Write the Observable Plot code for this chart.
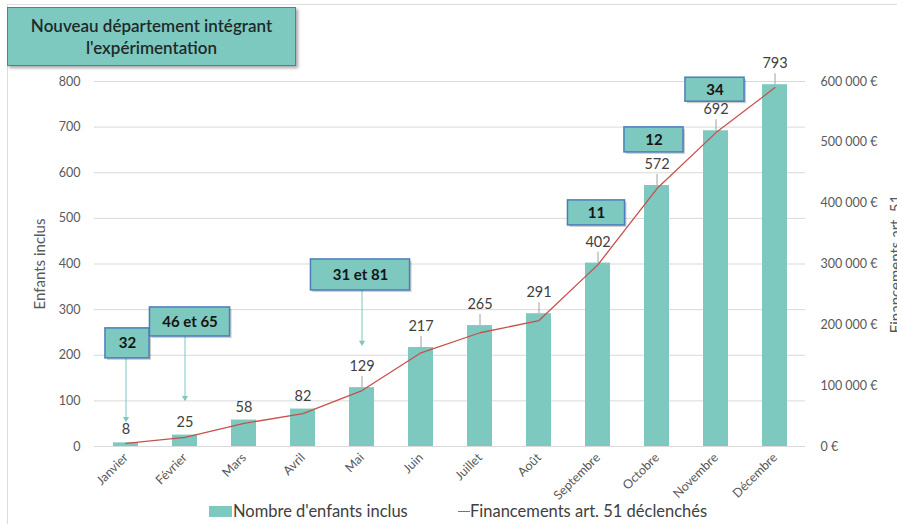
<!DOCTYPE html>
<html>
<head>
<meta charset="utf-8">
<script src="https://cdn.jsdelivr.net/npm/d3@7"></script>
<script src="https://cdn.jsdelivr.net/npm/@observablehq/plot@0.6"></script>
<style>
  html, body { margin: 0; padding: 0; background: #fff; }
  #wrap { position: relative; width: 897px; height: 524px; overflow: hidden; font-family: Lato, "Open Sans", sans-serif; }
  #frame { position: absolute; left: 7px; top: 4px; width: 960px; height: 600px; border: 1px solid #dcdcdc; box-sizing: border-box; }
  #chart { position: absolute; left: 0; top: 0; }
  #title { position: absolute; left: 7px; top: 7px; width: 289px; height: 59px; box-sizing: border-box;
           background: #7dc8bf; border: 1.5px solid #4a7ebb; box-shadow: 2px 2px 3px rgba(0,0,0,0.35);
           display: flex; align-items: center; justify-content: center; text-align: center;
           font-size: 17px; font-weight: 600; color: #1f2a2a; line-height: 22px; }
  .lg { position: absolute; font-size: 16.5px; color: #404040; line-height: 16px; white-space: nowrap; }
  .sw { position: absolute; }
</style>
</head>
<body>
<div id="wrap">
  <div id="frame"></div>
  <div id="chart"></div>
  <div id="title"></div>
  <div class="sw" id="sw1" style="left:209px;top:506px;width:23px;height:11px;background:#7dc8bf;"></div>
  <div class="lg" id="lg1" style="left:233px;top:503px;"></div>
  <div class="sw" id="sw2" style="left:458px;top:511px;width:12px;height:1.4px;background:#c8504c;"></div>
  <div class="lg" id="lg2" style="left:470px;top:503px;"></div>
</div>
<script>
// ---------- data ----------
const months = ["Janvier", "Février", "Mars", "Avril", "Mai", "Juin", "Juillet", "Août", "Septembre", "Octobre", "Novembre", "Décembre"];
const enfants = [8, 25, 58, 82, 129, 217, 265, 291, 402, 572, 692, 793];
const financements = [5000, 15000, 38000, 54000, 92000, 154000, 187000, 207000, 299000, 424000, 516000, 590000];
const leftTicks = [0, 100, 200, 300, 400, 500, 600, 700, 800];
const rightTicks = [0, 100000, 200000, 300000, 400000, 500000, 600000];
const calloutMonths = ["Janvier", "Février", "Mai", "Septembre", "Octobre", "Novembre"];
const calloutLabels = ["32", "46 et 65", "31 et 81", "11", "12", "34"];
const titleText = ["Nouveau département intégrant", "l'expérimentation"];
const legendLabels = ["Nombre d'enfants inclus", "Financements art. 51 déclenchés"];
const axisLabels = ["Enfants inclus", "Financements art. 51"];

// ---------- layout ----------
const W = 897, H = 524, mL = 94, mR = 92, mT = 81, mB = 78;
const k = 800 / 600000; // right-axis units -> left-axis units
const step = (W - mL - mR) / months.length;
const bw = step * 0.42;
// callout annotation placement (box centre y in left-axis units, size in px, arrow tip)
const calloutLayout = [
  {y: 226, h: 30, w: 44, dx: 1.5, tip: 61},
  {y: 273, h: 29, w: 80, dx: 5, tip: 107},
  {y: 376, h: 31, w: 99, dx: -1.5, tip: 228},
  {y: 512, h: 25, w: 57, dx: -1.5},
  {y: 672, h: 25, w: 59, dx: -3},
  {y: 782, h: 24, w: 59, dx: -1}
];

const rows = months.map((m, i) => ({month: m, v: enfants[i], fin: financements[i]}));
const callouts = calloutMonths.map((m, i) => ({month: m, label: calloutLabels[i], ...calloutLayout[i]}));

const teal = "#7dc8bf", red = "#c8504c", boxStroke = "#4a7ebb";
const fmtEuro = n => String(Math.round(n)).replace(/\B(?=(\d{3})+(?!\d))/g, "\u202f") + "\u00a0€";

const calloutMarks = [];
for (const c of callouts) {
  const half = (c.w - bw) / 2;
  const common = {x: "month", y1: "y", y2: "y", insetTop: -c.h / 2, insetBottom: -c.h / 2,
                  insetLeft: -(half - c.dx), insetRight: -(half + c.dx)};
  calloutMarks.push(Plot.barY([c], {...common, fill: "#000", fillOpacity: 0.2, dx: 2, dy: 2}));
  calloutMarks.push(Plot.barY([c], {...common, fill: teal, stroke: boxStroke, strokeWidth: 1.5}));
  calloutMarks.push(Plot.text([c], {x: "month", y: "y", text: "label", dx: c.dx, fontSize: 15, fontWeight: "bold", fill: "#151515"}));
}
const arrowed = callouts.filter(c => c.tip != null);

const chart = Plot.plot({
  width: W, height: H,
  marginLeft: mL, marginRight: mR, marginTop: mT, marginBottom: mB,
  style: {fontFamily: "Lato, 'Open Sans', sans-serif", color: "#595959", background: "transparent", overflow: "visible"},
  x: {domain: months, paddingInner: 0.58, paddingOuter: 0.29, axis: null},
  y: {domain: [0, 800], axis: null},
  marks: [
    Plot.ruleY(leftTicks, {stroke: "#d9d9d9", strokeWidth: 1}),
    Plot.axisY(leftTicks, {tickSize: 0, tickPadding: 14, fontSize: 12.5, label: null}),
    Plot.axisY(rightTicks.map(t => t * k), {anchor: "right", tickSize: 0, tickPadding: 15, fontSize: 12.5, label: null, tickFormat: t => fmtEuro(t / k)}),
    Plot.axisX(months, {tickSize: 0, tickPadding: 9, tickRotate: -45, fontSize: 12.5, label: null}),
    Plot.text([axisLabels[0]], {frameAnchor: "left", text: d => d, rotate: -90, textAnchor: "middle", dx: -54, fontSize: 15, fill: "#595959"}),
    Plot.text([axisLabels[1]], {frameAnchor: "right", text: d => d, rotate: -90, textAnchor: "middle", dx: 91, fontSize: 15, fill: "#595959"}),
    Plot.barY(rows, {x: "month", y: "v", fill: teal}),
    Plot.ruleX(rows.filter(d => d.v >= 100), {x: "month", y1: "v", y2: "v", insetTop: -11, stroke: "#a0a0a0", strokeWidth: 1}),
    Plot.line(rows, {x: "month", y: d => d.fin * k, stroke: red, strokeWidth: 1.3}),
    Plot.text(rows.filter(d => d.v < 100), {x: "month", y: "v", text: d => String(d.v), dy: -13, fontSize: 14.5, fill: "#404040"}),
    Plot.text(rows.filter(d => d.v >= 100), {x: "month", y: "v", text: d => String(d.v), dy: -21, fontSize: 14.5, fill: "#404040"}),
    Plot.ruleX(arrowed, {x: "month", y1: "y", y2: "tip", stroke: teal, strokeWidth: 1}),
    Plot.dot(arrowed, {x: "month", y: "tip", symbol: "triangle", rotate: 180, r: 2.3, fill: teal, stroke: "none"}),
    ...calloutMarks
  ]
});
document.getElementById("chart").appendChild(chart);
document.getElementById("title").innerHTML = titleText.join("<br>");
document.getElementById("lg1").textContent = legendLabels[0];
document.getElementById("lg2").textContent = legendLabels[1];
</script>
</body>
</html>
